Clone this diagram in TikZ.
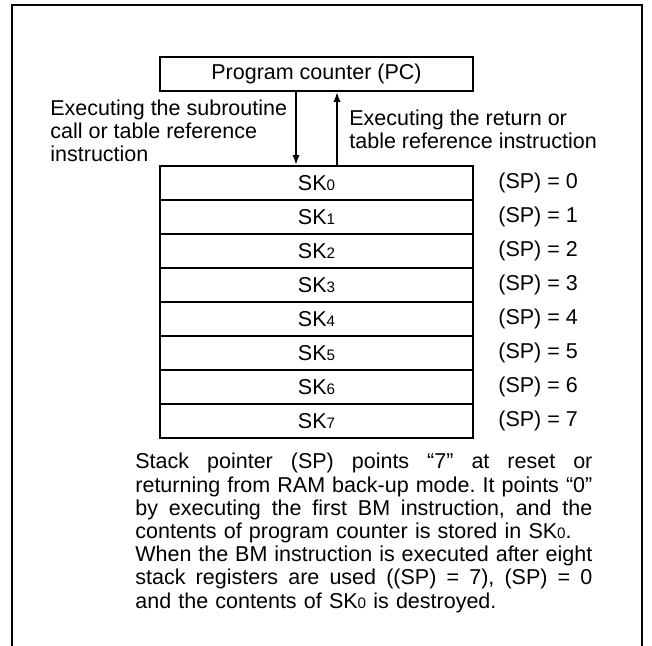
\documentclass[tikz,border=0pt]{standalone}
\usepackage{fontspec}
\setmainfont{Liberation Sans}
\usetikzlibrary{arrows.meta}
\frenchspacing
\newcommand\skidx[1]{{\fontsize{7.6}{8}\selectfont #1}}
\newcommand\jline[1]{\makebox[228.5pt][s]{\spaceskip=0.278em plus 1fil\relax #1}}
\begin{document}
\begin{tikzpicture}[x=0.5pt,y=-0.5pt,
    font=\fontsize{10.75}{11.6}\selectfont,
    box/.style={draw,line width=0.9pt,minimum width=156.5pt,minimum height=17pt,inner sep=0pt},
    lbl/.style={anchor=west,inner sep=0pt,align=left},
    flow/.style={line width=0.9pt,-{Latex[length=5pt,width=3.6pt]}}]
  \useasboundingbox (0,0) rectangle (652,646);
  % outer frame, open at the bottom
  \draw[line width=1pt] (12,646) -- (12,5) -- (642,5) -- (642,646);
  \node[box] (pc) at (316.5,74) {Program counter (PC)};
  % stack registers
  \foreach \i in {0,...,7} {
    \node[box] (sk\i) at (316.5,183+34*\i) {SK\skidx{\i}};
    \node[lbl] (sp\i) at (498,183+34*\i) {(SP) = \i};
  }
  \draw[flow] ([xshift=-10.25pt]pc.south) -- ([xshift=-10.25pt]sk0.north);
  \draw[flow] ([xshift=10.25pt]sk0.north) -- ([xshift=10.25pt]pc.south);
  \node[lbl] (call) at (50,131) {Executing the subroutine\\call or table reference\\instruction};
  \node[lbl] (ret) at (349,129) {Executing the return or\\table reference instruction};
  \node[anchor=north west,inner sep=0pt,text width=228.5pt,align=left] (note) at (135,453)
    {\jline{Stack pointer (SP) points “7” at reset or}\\
     \jline{returning from RAM back-up mode. It points “0”}\\
     \jline{by executing the first BM instruction, and the}\\
     contents of program counter is stored in SK\skidx{0}.\\
     \jline{When the BM instruction is executed after eight}\\
     \jline{stack registers are used ((SP) = 7), (SP) = 0}\\
     and the contents of SK\skidx{0} is destroyed.};
\end{tikzpicture}
\end{document}
